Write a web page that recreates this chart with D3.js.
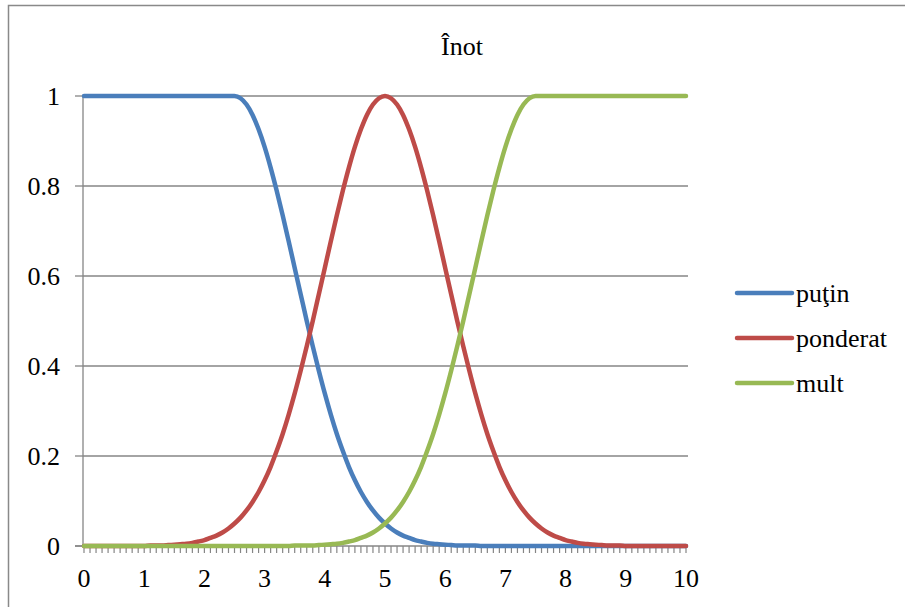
<!DOCTYPE html>
<html>
<head>
<meta charset="utf-8">
<script src="https://cdn.jsdelivr.net/npm/d3@7"></script>
<style>
  html, body { margin: 0; padding: 0; background: #fff; }
  svg { display: block; }
  svg text { font-family: 'Liberation Serif', 'DejaVu Serif', serif !important; }
</style>
</head>
<body>
<svg id="chart" width="905" height="607"></svg>
<script>
// Membership values of the three swimming levels, sampled every 0.1 on [0, 10]
const xValues = d3.range(0, 101).map(i => +(i / 10).toFixed(1));

const putin = [
  1, 1, 1, 1, 1, 1, 1, 1, 1, 1,
  1, 1, 1, 1, 1, 1, 1, 1, 1, 1,
  1, 1, 1, 1, 1, 1,
  0.995, 0.981, 0.958, 0.926, 0.887, 0.841, 0.790, 0.735, 0.677, 0.618,
  0.559, 0.500, 0.444, 0.390, 0.339, 0.292, 0.249, 0.211, 0.176, 0.146,
  0.120, 0.098, 0.079, 0.063, 0.050, 0.039, 0.030, 0.023, 0.018, 0.013,
  0.010, 0.007, 0.005, 0.004, 0.003,
  0.002, 0.001, 0.001, 0.001, 0.001, 0, 0, 0, 0, 0,
  0, 0, 0, 0, 0, 0, 0, 0, 0, 0,
  0, 0, 0, 0, 0, 0, 0, 0, 0, 0,
  0, 0, 0, 0, 0, 0, 0, 0, 0, 0
];

const ponderat = [
  0, 0, 0, 0, 0, 0, 0, 0, 0, 0,
  0, 0.001, 0.001, 0.001, 0.002, 0.003, 0.004, 0.005, 0.007, 0.010,
  0.013, 0.018, 0.023, 0.030, 0.039, 0.050, 0.063, 0.079, 0.098, 0.120,
  0.146, 0.176, 0.211, 0.249, 0.292, 0.339, 0.390, 0.444, 0.500, 0.559,
  0.618, 0.677, 0.735, 0.790, 0.841, 0.887, 0.926, 0.958, 0.981, 0.995,
  1,
  0.995, 0.981, 0.958, 0.926, 0.887, 0.841, 0.790, 0.735, 0.677, 0.618,
  0.559, 0.500, 0.444, 0.390, 0.339, 0.292, 0.249, 0.211, 0.176, 0.146,
  0.120, 0.098, 0.079, 0.063, 0.050, 0.039, 0.030, 0.023, 0.018, 0.013,
  0.010, 0.007, 0.005, 0.004, 0.003, 0.002, 0.001, 0.001, 0.001, 0,
  0, 0, 0, 0, 0, 0, 0, 0, 0, 0
];

const mult = [
  0, 0, 0, 0, 0, 0, 0, 0, 0, 0,
  0, 0, 0, 0, 0, 0, 0, 0, 0, 0,
  0, 0, 0, 0, 0, 0, 0, 0, 0, 0,
  0, 0, 0, 0, 0, 0.001, 0.001, 0.001, 0.001, 0.002,
  0.003, 0.004, 0.005, 0.007, 0.010, 0.013, 0.018, 0.023, 0.030, 0.039,
  0.050, 0.063, 0.079, 0.098, 0.120, 0.146, 0.176, 0.211, 0.249, 0.292,
  0.339, 0.390, 0.444, 0.500, 0.559, 0.618, 0.677, 0.735, 0.790, 0.841,
  0.887, 0.926, 0.958, 0.981, 0.995,
  1, 1, 1, 1, 1, 1, 1, 1, 1, 1,
  1, 1, 1, 1, 1, 1, 1, 1, 1, 1,
  1, 1, 1, 1, 1, 1
];

const seriesNames = ["puţin", "ponderat", "mult"];
const seriesColors = ["#4A7EBB", "#BE4B48", "#98B954"];
const seriesValues = [putin, ponderat, mult];

const yTicks = [0, 0.2, 0.4, 0.6, 0.8, 1];
const yTickLabels = ["0", "0.2", "0.4", "0.6", "0.8", "1"];
const xTicks = [0, 1, 2, 3, 4, 5, 6, 7, 8, 9, 10];
const xMinorTicks = xValues;
const title = "Înot";

const svg = d3.select("#chart");
const fontSize = 26;
const gridColor = "#868686";

// Chart frame
svg.append("rect")
  .attr("x", 8.5).attr("y", 5.5)
  .attr("width", 910).attr("height", 620)
  .attr("fill", "#fff")
  .attr("stroke", "#898989").attr("stroke-width", 1.5);

const x = d3.scaleLinear().domain([0, 10]).range([84, 686]);
const y = d3.scaleLinear().domain([0, 1]).range([546, 96]);
const axisLeft = 83, axisRight = 688;

// Horizontal gridlines
svg.append("g").selectAll("line")
  .data(yTicks.filter(v => v > 0))
  .join("line")
  .attr("x1", axisLeft).attr("x2", axisRight)
  .attr("y1", d => y(d)).attr("y2", d => y(d))
  .attr("stroke", gridColor).attr("stroke-width", 1.3);

// Y axis: line, major ticks and right-aligned labels
const gy = svg.append("g");
gy.append("line")
  .attr("x1", axisLeft).attr("x2", axisLeft)
  .attr("y1", y(1)).attr("y2", y(0))
  .attr("stroke", gridColor).attr("stroke-width", 1.3);
gy.selectAll("line.tick")
  .data(yTicks)
  .join("line")
  .attr("class", "tick")
  .attr("x1", axisLeft - 8).attr("x2", axisLeft)
  .attr("y1", d => y(d)).attr("y2", d => y(d))
  .attr("stroke", gridColor).attr("stroke-width", 1.3);
gy.selectAll("text")
  .data(yTicks)
  .join("text")
  .attr("x", 60)
  .attr("y", d => y(d) + 9)
  .attr("text-anchor", "end")
  .attr("font-size", fontSize)
  .attr("fill", "#000")
  .text((d, i) => yTickLabels[i]);

// X axis: minor ticks every 0.1, labels on integers
const gx = svg.append("g").attr("transform", `translate(0,${y(0)})`);
gx.append("line")
  .attr("x1", axisLeft - 8).attr("x2", axisRight)
  .attr("stroke", gridColor).attr("stroke-width", 1.3);
gx.selectAll("line.minor")
  .data(xMinorTicks)
  .join("line")
  .attr("class", "minor")
  .attr("x1", d => x(d)).attr("x2", d => x(d))
  .attr("y1", 0).attr("y2", 7)
  .attr("stroke", gridColor).attr("stroke-width", 1.2);
gx.selectAll("text")
  .data(xTicks)
  .join("text")
  .attr("x", d => x(d))
  .attr("y", 41)
  .attr("text-anchor", "middle")
  .attr("font-size", fontSize)
  .attr("fill", "#000")
  .text(d => d3.format("d")(d));

// Series lines
const line = d3.line()
  .x((d, i) => x(xValues[i]))
  .y(d => y(d))
  .curve(d3.curveMonotoneX);

svg.append("g").selectAll("path")
  .data(seriesValues)
  .join("path")
  .attr("d", d => line(d))
  .attr("fill", "none")
  .attr("stroke", (d, i) => seriesColors[i])
  .attr("stroke-width", 4.5)
  .attr("stroke-linecap", "round")
  .attr("stroke-linejoin", "round");

// Title
svg.append("text")
  .attr("x", 462).attr("y", 55)
  .attr("text-anchor", "middle")
  .attr("font-size", fontSize)
  .attr("fill", "#000")
  .text(title);

// Legend
const legend = svg.append("g").selectAll("g")
  .data(seriesNames)
  .join("g")
  .attr("transform", (d, i) => `translate(737,${293 + i * 45})`);
legend.append("line")
  .attr("x1", 0).attr("x2", 55)
  .attr("stroke", (d, i) => seriesColors[i])
  .attr("stroke-width", 4.5)
  .attr("stroke-linecap", "round");
legend.append("text")
  .attr("x", 59).attr("y", 8.5)
  .attr("font-size", fontSize)
  .attr("fill", "#000")
  .text(d => d);
</script>
</body>
</html>
